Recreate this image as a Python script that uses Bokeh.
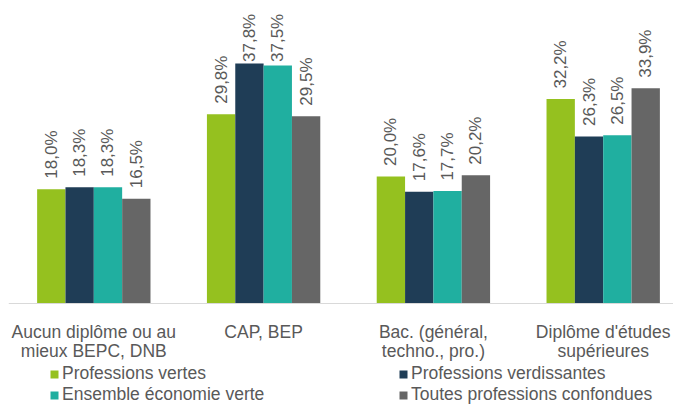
import numpy as np
from bokeh.plotting import figure
from bokeh.models import Legend, LegendItem, Range1d, Span
from bokeh.core.properties import value
from bokeh.embed import file_html
from bokeh.resources import INLINE

categories_line1 = ["Aucun diplôme ou au", "CAP, BEP", "Bac. (général,", "Diplôme d'études"]
categories_line2 = ["mieux BEPC, DNB", "", "techno., pro.)", "supérieures"]
series_names = ["Professions vertes", "Professions verdissantes",
                "Ensemble économie verte", "Toutes professions confondues"]
professions_vertes = [18.0, 29.8, 20.0, 32.2]
professions_verdissantes = [18.3, 37.8, 17.6, 26.3]
ensemble_economie_verte = [18.3, 37.5, 17.7, 26.5]
toutes_professions = [16.5, 29.5, 20.2, 33.9]
series_values = [professions_vertes, professions_verdissantes,
                 ensemble_economie_verte, toutes_professions]
colors = ["#95C11F", "#1F3D56", "#20AFA0", "#666666"]

FONT = "Liberation Sans"
TXT = "#595959"
PX = 6.35  # pixels per percentage point

p = figure(frame_width=665, frame_height=396,
           min_border_left=8, min_border_right=0, min_border_top=8, min_border_bottom=0,
           x_range=Range1d(-0.0024, 3.914), y_range=Range1d(-101 / PX, 295 / PX),
           output_backend="svg", toolbar_location=None,
           x_axis_location=None, y_axis_location=None)
p.outline_line_color = None
p.xgrid.visible = False
p.ygrid.visible = False

# baseline (category axis line)
p.add_layout(Span(location=0, dimension="width", line_color="#D9D9D9", line_width=1))

centers = [i + 0.5 for i in range(len(categories_line1))]
w = 0.1669
label_cap = 241.5 / PX  # labels kept inside the plot area (as in the original)
renderers = []
for k, (vals, col) in enumerate(zip(series_values, colors)):
    xs = [c + (k - 1.5) * w for c in centers]
    r = p.vbar(x=xs, top=vals, width=w, bottom=0, fill_color=col, line_color=None)
    renderers.append(r)
    labels = [f"{v:.1f}".replace(".", ",") + "%" for v in vals]
    ys = [min(v + 10.5 / PX, label_cap) for v in vals]
    p.text(x=xs, y=ys, text=labels, angle=np.pi / 2, text_align="left",
           text_baseline="middle", text_font=value(FONT),
           text_font_size="17px", text_color=TXT)

# category labels (two lines)
zeros = [0] * len(centers)
p.text(x=centers, y=zeros, text=categories_line1, y_offset=28.7, text_align="center",
       text_baseline="alphabetic", text_font=value(FONT), text_font_size="17.5px",
       text_color=TXT)
p.text(x=centers, y=zeros, text=categories_line2, y_offset=47, text_align="center",
       text_baseline="alphabetic", text_font=value(FONT), text_font_size="17.5px",
       text_color=TXT)

def make_legend(idx, loc):
    lg = Legend(items=[LegendItem(label=series_names[i], renderers=[renderers[i]]) for i in idx],
                location=loc, orientation="vertical")
    lg.label_text_font = FONT
    lg.label_text_font_size = "17.5px"
    lg.label_text_color = TXT
    lg.glyph_width = 10
    lg.glyph_height = 10
    lg.label_height = 20
    lg.label_standoff = 3
    lg.spacing = 0
    lg.padding = 0
    lg.margin = 0
    lg.border_line_color = None
    lg.background_fill_alpha = 0
    return lg

p.add_layout(make_legend([0, 2], (41, -1)), "center")
p.add_layout(make_legend([1, 3], (390, -1)), "center")

open("out.html", "w").write(file_html(p, INLINE))
